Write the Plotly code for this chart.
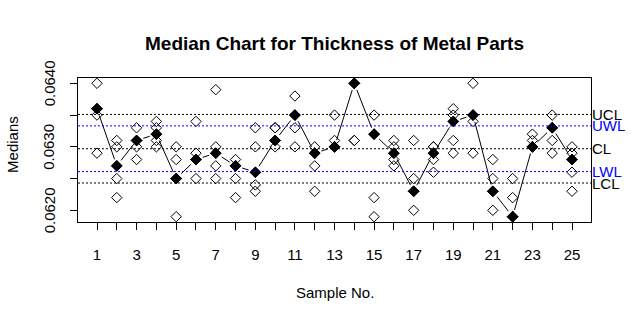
import numpy as np
import plotly.graph_objects as go

# ---------------- data ----------------
samples = list(range(1, 26))
obs = [
    [0.0640, 0.0636, 0.0636, 0.0635, 0.0629],
    [0.0631, 0.0630, 0.0627, 0.0625, 0.0622],
    [0.0633, 0.0631, 0.0631, 0.0630, 0.0628],
    [0.0634, 0.0633, 0.0632, 0.0631, 0.0630],
    [0.0630, 0.0628, 0.0625, 0.0625, 0.0619],
    [0.0634, 0.0629, 0.0628, 0.0628, 0.0625],
    [0.0639, 0.0630, 0.0629, 0.0627, 0.0625],
    [0.0628, 0.0627, 0.0627, 0.0625, 0.0622],
    [0.0633, 0.0630, 0.0626, 0.0624, 0.0623],
    [0.0633, 0.0633, 0.0631, 0.0631, 0.0630],
    [0.0638, 0.0635, 0.0635, 0.0633, 0.0630],
    [0.0630, 0.0629, 0.0629, 0.0627, 0.0623],
    [0.0635, 0.0631, 0.0630, 0.0630, 0.0630],
    [0.0640, 0.0640, 0.0640, 0.0631, 0.0631],
    [0.0635, 0.0632, 0.0632, 0.0622, 0.0619],
    [0.0631, 0.0630, 0.0629, 0.0628, 0.0627],
    [0.0631, 0.0625, 0.0623, 0.0623, 0.0620],
    [0.0630, 0.0630, 0.0629, 0.0628, 0.0626],
    [0.0636, 0.0635, 0.0634, 0.0631, 0.0629],
    [0.0640, 0.0635, 0.0635, 0.0634, 0.0629],
    [0.0628, 0.0625, 0.0623, 0.0623, 0.0620],
    [0.0625, 0.0622, 0.0619, 0.0619, 0.0619],
    [0.0632, 0.0631, 0.0630, 0.0630, 0.0630],
    [0.0635, 0.0633, 0.0633, 0.0631, 0.0629],
    [0.0630, 0.0629, 0.0628, 0.0626, 0.0623],
]
limit_names = ["UCL", "UWL", "CL", "LWL", "LCL"]
limit_values = [0.06351, 0.06333, 0.06297, 0.06261, 0.06243]
limit_colors = ["black", "blue", "black", "blue", "black"]
y_tick_vals = [0.0620, 0.0625, 0.0630, 0.0635, 0.0640]
y_tick_labels = ["0.0620", "", "0.0630", "", "0.0640"]
x_tick_text = [str(s) if s % 2 == 1 else "" for s in samples]

medians = [float(np.median(o)) for o in obs]

# ---------------- layout geometry ----------------
W, H = 632, 321
ML, MR, MT, MB = 78, 40.5, 78, 98.5
XR = [0.04, 25.96]
YR = [0.061816, 0.064084]
FONT = "Liberation Sans, Arial, sans-serif"

pw = W - ML - MR
ph = H - MT - MB
sx = pw / (XR[1] - XR[0])
sy = ph / (YR[1] - YR[0])

# R type="b" style: segments with gaps around the points
gap = 7.0
lx, ly = [], []
for i in range(len(samples) - 1):
    x0, y0 = samples[i], medians[i]
    x1, y1 = samples[i + 1], medians[i + 1]
    dx, dy = (x1 - x0) * sx, (y1 - y0) * sy
    d = np.hypot(dx, dy)
    if d > 2 * gap:
        f = gap / d
        lx += [x0 + (x1 - x0) * f, x1 - (x1 - x0) * f, None]
        ly += [y0 + (y1 - y0) * f, y1 - (y1 - y0) * f, None]

ox, oy = [], []
for s, o in zip(samples, obs):
    ox += [s] * len(o)
    oy += o

fig = go.Figure()
fig.add_trace(go.Scatter(
    x=ox, y=oy, mode="markers",
    marker=dict(symbol="diamond-open", size=8, color="black", line=dict(width=1, color="black")),
    hoverinfo="skip", showlegend=False))
fig.add_trace(go.Scatter(
    x=lx, y=ly, mode="lines", line=dict(color="black", width=1),
    hoverinfo="skip", showlegend=False))
fig.add_trace(go.Scatter(
    x=samples, y=medians, mode="markers",
    marker=dict(symbol="diamond", size=8.5, color="black", line=dict(width=0.5, color="black")),
    showlegend=False))

for name, val, col in zip(limit_names, limit_values, limit_colors):
    fig.add_shape(type="line", xref="paper", x0=0, x1=1, yref="y", y0=val, y1=val,
                  line=dict(color=col, width=1, dash="2px,2px"))
    fig.add_annotation(xref="paper", x=1, xanchor="left", xshift=-1, yref="y", y=val,
                       yanchor="middle", text=name, showarrow=False,
                       font=dict(family=FONT, size=15, color=col))

# y tick labels (rotated, R style)
for v, t in zip(y_tick_vals, y_tick_labels):
    if t:
        fig.add_annotation(xref="paper", x=0, xshift=-29, xanchor="center", yref="y", y=v,
                           yanchor="middle", textangle=-90, text=t, showarrow=False,
                           font=dict(family=FONT, size=15, color="black"))

fig.add_annotation(xref="paper", x=0.5, y=0, yref="paper", yanchor="middle", yshift=-70.5,
                   text="Sample No.", showarrow=False, font=dict(family=FONT, size=15, color="black"))
fig.add_annotation(xref="paper", x=0, xshift=-65, xanchor="center", yref="paper", y=0.535,
                   yanchor="middle", textangle=-90, text="Medians", showarrow=False,
                   font=dict(family=FONT, size=15, color="black"))

fig.update_layout(
    width=W, height=H,
    margin=dict(l=ML, r=MR, t=MT, b=MB, pad=0),
    paper_bgcolor="white", plot_bgcolor="white",
    font=dict(family=FONT, color="black"),
    title=dict(text="<b>Median Chart for Thickness of Metal Parts</b>", xref="paper", x=0.5,
               xanchor="center", yref="container", y=1 - 43 / H, yanchor="middle",
               font=dict(family=FONT, size=19, color="black")),
    xaxis=dict(range=XR, tickvals=samples, ticktext=x_tick_text, ticks="outside", ticklen=7,
               tickcolor="black", tickwidth=1, showline=True, linecolor="black", linewidth=1,
               mirror=True, showgrid=False, zeroline=False, ticklabelstandoff=12,
               tickfont=dict(family=FONT, size=15, color="black")),
    yaxis=dict(range=YR, tickvals=y_tick_vals, ticks="outside", ticklen=7,
               tickcolor="black", tickwidth=1, showline=True, linecolor="black", linewidth=1,
               mirror=True, showgrid=False, zeroline=False, showticklabels=False),
)

fig.write_html("out.html")
